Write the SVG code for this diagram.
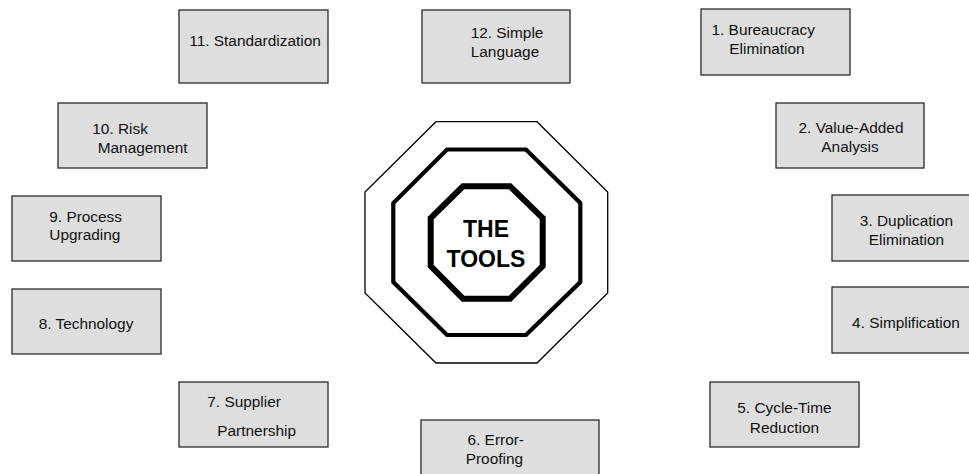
<svg xmlns="http://www.w3.org/2000/svg" width="969" height="474" viewBox="0 0 969 474">
  <style>
    .box { fill: #dedede; stroke: #2a2a2a; stroke-width: 1.3; }
    .lbl { font-family: "Liberation Sans", Arial, sans-serif; font-size: 15.4px; fill: #111; }
    .ctr { text-anchor: middle; }
    .oct { fill: #fff; stroke: #000; stroke-linejoin: miter; }
    .title { font-family: "Liberation Sans", Arial, sans-serif; font-size: 23px; font-weight: bold; fill: #000; text-anchor: middle; }
  </style>
  <rect width="969" height="474" fill="#fff"/>

  <!-- central octagon emblem: three nested octagons -->
  <g id="center">
    <polygon class="oct" stroke-width="1.3" points="436,121.7 537,121.7 607.7,192 607.7,293 537,363 436,363 365,293 365,192"/>
    <polygon class="oct" stroke-width="4.2" points="447,149.5 526,149.5 580.3,203 580.3,282 526,335 447,335 393.3,282 393.3,203"/>
    <polygon class="oct" stroke-width="6" points="463,186.3 510,186.3 542.7,218 542.7,266 510,298.7 463,298.7 430.7,266 430.7,218"/>
    <text class="title" x="486" y="237">THE</text>
    <text class="title" x="486" y="267">TOOLS</text>
  </g>

  <g id="connectors"></g>

  <g id="tool1">
    <rect class="box" x="701" y="9" width="149" height="66"/>
    <text class="lbl" x="711.5" y="35">1. Bureaucracy</text>
    <text class="lbl" x="729.3" y="54">Elimination</text>
  </g>
  <g id="tool2">
    <rect class="box" x="776" y="103" width="148" height="65"/>
    <text class="lbl ctr" x="851" y="133.3">2. Value-Added</text>
    <text class="lbl ctr" x="850" y="152.3">Analysis</text>
  </g>
  <g id="tool3">
    <rect class="box" x="832" y="195" width="149" height="66"/>
    <text class="lbl ctr" x="906.5" y="226">3. Duplication</text>
    <text class="lbl ctr" x="906.5" y="244.5">Elimination</text>
  </g>
  <g id="tool4">
    <rect class="box" x="832" y="287" width="149" height="66"/>
    <text class="lbl ctr" x="906" y="328">4. Simplification</text>
  </g>
  <g id="tool5">
    <rect class="box" x="710" y="382" width="149" height="65"/>
    <text class="lbl ctr" x="784.5" y="412.7">5. Cycle-Time</text>
    <text class="lbl ctr" x="784.5" y="432.7">Reduction</text>
  </g>
  <g id="tool6">
    <rect class="box" x="421" y="420" width="178" height="73"/>
    <text class="lbl" x="467.5" y="445">6. Error-</text>
    <text class="lbl" x="465.7" y="464">Proofing</text>
  </g>
  <g id="tool7">
    <rect class="box" x="179" y="382" width="149" height="65"/>
    <text class="lbl" x="207.3" y="407.3">7. Supplier</text>
    <text class="lbl" x="217.3" y="435.7">Partnership</text>
  </g>
  <g id="tool8">
    <rect class="box" x="12" y="289" width="149" height="65"/>
    <text class="lbl ctr" x="86" y="329.3">8. Technology</text>
  </g>
  <g id="tool9">
    <rect class="box" x="12" y="196" width="149" height="65"/>
    <text class="lbl" x="49.3" y="221.7">9. Process</text>
    <text class="lbl" x="49.3" y="240">Upgrading</text>
  </g>
  <g id="tool10">
    <rect class="box" x="58" y="103" width="149" height="65"/>
    <text class="lbl" x="92.3" y="134">10. Risk</text>
    <text class="lbl" x="97.7" y="153.3">Management</text>
  </g>
  <g id="tool11">
    <rect class="box" x="179" y="10" width="149" height="73"/>
    <text class="lbl" x="189.3" y="46">11. Standardization</text>
  </g>
  <g id="tool12">
    <rect class="box" x="422" y="10" width="148" height="73"/>
    <text class="lbl ctr" x="507" y="37.7">12. Simple</text>
    <text class="lbl ctr" x="505" y="56.7">Language</text>
  </g>
</svg>
